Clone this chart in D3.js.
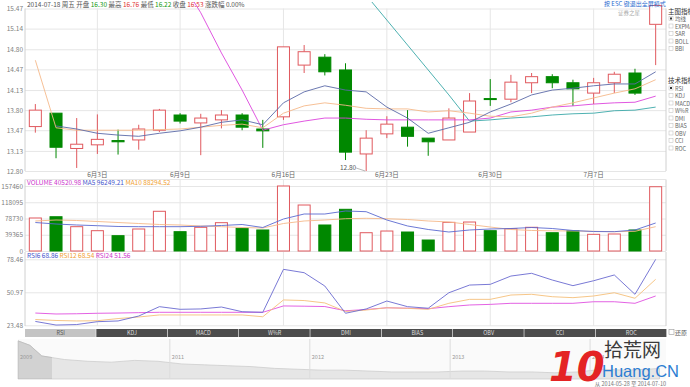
<!DOCTYPE html>
<html>
<head>
<meta charset="utf-8">
<script src="https://cdn.jsdelivr.net/npm/d3@7"></script>
<style>
  body { margin: 0; background: #fff; }
  svg { display: block; }
</style>
</head>
<body>
<svg id="chart" width="690" height="387"></svg>
<script>
// trading days shown, 2014-05-28 .. 2014-07-10
const dates = ["05-28","05-29","05-30","06-03","06-04","06-05","06-06","06-09","06-10","06-11",
  "06-12","06-13","06-16","06-17","06-18","06-19","06-20","06-23","06-24","06-25",
  "06-26","06-27","06-30","07-01","07-02","07-03","07-04","07-07","07-08","07-09","07-10"];

const openP  = [13.53,13.75,13.17,13.23,13.30,13.31,13.47,13.72,13.59,13.64,13.72,13.49,13.69,14.54,14.67,14.46,13.08,13.41,13.52,13.34,13.31,13.44,13.99,13.98,14.25,14.35,14.25,14.08,14.25,14.41,15.21];
const closeP = [13.80,13.19,13.24,13.32,13.28,13.49,13.80,13.62,13.67,13.72,13.52,13.46,14.84,14.76,14.43,13.11,13.34,13.57,13.37,13.28,13.67,13.95,13.98,14.26,14.35,14.25,14.15,14.25,14.39,14.08,15.52];
const highP  = [13.90,13.75,13.67,13.73,13.48,13.56,13.82,13.75,13.74,13.80,13.75,13.64,14.84,14.87,14.72,14.57,13.47,13.70,13.80,13.34,13.83,14.08,14.31,14.38,14.41,14.39,14.30,14.33,14.43,14.48,15.52];
const lowP   = [13.43,13.01,12.85,13.08,13.07,13.15,13.44,13.58,13.06,13.50,13.47,13.18,13.64,14.41,14.37,12.98,12.80,13.34,13.20,13.05,13.31,13.44,13.87,13.93,14.08,14.16,13.87,13.90,14.08,14.05,14.54];

const ma5  = [null,13.54,13.49,13.42,13.39,13.37,13.42,13.46,13.52,13.60,13.64,13.56,13.92,14.10,14.20,14.13,14.10,13.85,13.67,13.42,13.51,13.60,13.77,13.90,14.05,14.13,14.16,14.20,14.23,14.23,14.43];
const ma10 = [14.62,13.51,13.47,13.47,13.47,13.47,13.48,13.49,13.52,13.55,13.57,13.51,13.75,13.87,13.92,13.88,13.83,13.82,13.82,13.77,13.79,13.75,13.70,13.69,13.75,13.85,13.92,14.00,14.08,14.15,14.30];
const ma20 = [null,null,null,null,null,null,null,15.95,15.40,14.74,14.13,13.47,13.56,13.62,13.67,13.67,13.65,13.64,13.64,13.64,13.64,13.64,13.67,13.77,13.80,13.85,13.87,13.90,13.92,13.93,14.03];
const ma30 = [null,null,null,null,null,null,null,null,null,null,null,null,null,null,null,null,15.69,15.28,14.87,14.46,14.05,13.62,13.64,13.67,13.69,13.72,13.74,13.75,13.79,13.80,13.85];

const volume = [79940,83000,58900,49200,37100,53300,96200,46800,57400,68600,55000,50900,157460,111400,63000,101000,44300,48400,46000,26600,69400,70200,49200,54000,57400,44300,49200,40400,41200,50900,155700];
const volMa5  = [69000,65400,63000,61300,59400,58900,58900,58900,59800,61800,64200,56900,77500,89600,89600,96900,95200,75100,60600,52100,46000,50900,53300,54500,56900,54500,49700,47200,46800,50900,67800];
const volMa10 = [72700,75100,73900,71500,69000,66600,64200,63000,60600,58900,56900,55700,66600,72700,75100,78200,79200,78200,76300,72700,70300,64200,58100,52100,49700,48900,48500,47700,46800,47700,58900];

const rsi6  = [26.7,23.7,24.1,26.5,27.1,31.2,39.0,36.8,37.1,38.7,34.8,34.3,70.1,67.3,56.2,33.5,37.1,43.7,39.0,37.7,50.6,57.0,57.6,64.5,66.8,61.2,56.5,60.6,65.4,49.3,78.4];
const rsi12 = [28.3,27.5,27.1,27.3,29.1,30.4,32.1,32.1,32.1,32.1,32.1,30.6,44.6,44.1,42.1,35.0,36.2,38.1,37.6,36.8,41.8,45.1,45.1,48.7,49.3,47.3,46.5,47.9,50.6,46.0,61.8];
const rsi24 = [33.7,32.9,33.1,33.5,33.7,34.0,34.3,34.3,34.3,34.3,34.3,34.3,39.6,39.4,39.1,35.6,36.6,38.1,37.7,37.3,39.0,40.4,40.9,41.8,41.8,41.8,41.8,43.1,43.1,41.8,47.9];

const priceTicks = [12.80,13.13,13.47,13.80,14.13,14.47,14.80,15.14,15.47];
const volTicks = [0,39365,78730,118095,157460];
const rsiTicks = [23.48,50.97,78.46];
const dateTicks = ["06-03","06-09","06-16","06-23","06-30","07-07"];
const dateLabels = ["6月3日","6月9日","6月16日","6月23日","6月30日","7月7日"];

const mainIndicators = ["均线","EXPMA","SAR","BOLL","BBI"];
const techIndicators = ["RSI","KDJ","MACD","W%R","DMI","BIAS","OBV","CCI","ROC"];

// overview (history) series
const ovMonths = ["2009-12","2010-01","2010-02","2010-04","2010-06","2010-08","2010-10","2010-12","2011-02","2011-04","2011-06",
  "2011-08","2011-10","2011-12","2012-02","2012-04","2012-06","2012-08","2012-10","2012-12","2013-02",
  "2013-04","2013-06","2013-08","2013-10","2013-12","2014-02","2014-04","2014-06","2014-07"];
const ovValues = [29.5,27,21,19,18,17.5,18.5,18,16.5,16,15.5,15,14,13.5,13,13,12.5,12,12,12,12.5,12.5,12,12,11.5,12,13.5,13,13.5,14];
const ovYears = ["2011","2012","2013","2014"];

const FONT = "'Noto Sans CJK SC','DejaVu Sans',sans-serif";
const UP = "#e0595e", DOWN = "#008800", GRID = "#e6e6e6", AXIS = "#808080";
const X0 = 25, X1 = 666;

const svg = d3.select("#chart").attr("font-family", FONT);

const x = d3.scaleBand().domain(dates).range([X0, X1]).paddingInner(0.37).paddingOuter(0.185);
const cx = i => x(dates[i]) + x.bandwidth() / 2;
const yP = d3.scaleLinear().domain([12.80, 15.47]).range([171, 8.5]);
const yV = d3.scaleLinear().domain([0, 157460]).range([251, 186]);
const yR = d3.scaleLinear().domain([23.48, 78.46]).range([325.3, 259.3]);

function grid(scale, ticks, top, bottom, fmt) {
  const g = svg.append("g").attr("transform", `translate(${X0},0)`)
    .call(d3.axisLeft(scale).tickValues(ticks).tickSize(-(X1 - X0)).tickPadding(2).tickFormat(fmt));
  g.attr("font-family", FONT).attr("font-size", 6.5);
  g.select(".domain").remove();
  g.selectAll("line").attr("stroke", GRID);
  g.selectAll("text").attr("fill", AXIS);
  const v = svg.append("g").attr("transform", `translate(0,${bottom})`)
    .call(d3.axisBottom(x).tickValues(dateTicks).tickSize(-(bottom - top)).tickFormat(""));
  v.select(".domain").remove();
  v.selectAll("line").attr("stroke", GRID);
  svg.append("line").attr("x1", X0).attr("x2", X0).attr("y1", top).attr("y2", bottom).attr("stroke", "#d0d0d0");
  svg.append("line").attr("x1", X1).attr("x2", X1).attr("y1", top).attr("y2", bottom).attr("stroke", "#d0d0d0");
}

grid(yP, priceTicks, 8.5, 171, d3.format(".2f"));
grid(yV, volTicks, 179.5, 251, d => d);
grid(yR, rsiTicks, 252, 326, d3.format(".2f"));
svg.append("line").attr("x1", X0).attr("x2", X1).attr("y1", 179.5).attr("y2", 179.5).attr("stroke", GRID);

// date labels
svg.append("g").selectAll("text").data(dateTicks).join("text")
  .attr("x", d => x(d) + x.bandwidth() / 2).attr("y", 177)
  .attr("text-anchor", "middle").attr("font-size", 6.5).attr("fill", "#666")
  .text((d, i) => dateLabels[i]);

// ---------- main candles ----------
svg.append("clipPath").attr("id", "clipMain").append("rect")
  .attr("x", X0).attr("y", 2).attr("width", X1 - X0).attr("height", 171 - 2);
const main = svg.append("g").attr("clip-path", "url(#clipMain)");
const idx = d3.range(dates.length);
const up = i => closeP[i] >= openP[i];
const bw = x.bandwidth();

const candles = main.append("g").selectAll("g").data(idx).join("g");
candles.append("line")
  .attr("x1", i => cx(i)).attr("x2", i => cx(i))
  .attr("y1", i => yP(highP[i])).attr("y2", i => yP(Math.max(openP[i], closeP[i])))
  .attr("stroke", i => up(i) ? UP : DOWN);
candles.append("line")
  .attr("x1", i => cx(i)).attr("x2", i => cx(i))
  .attr("y1", i => yP(Math.min(openP[i], closeP[i]))).attr("y2", i => yP(lowP[i]))
  .attr("stroke", i => up(i) ? UP : DOWN);
candles.append("rect")
  .attr("x", i => x(dates[i]) + 0.5).attr("width", bw - 1)
  .attr("y", i => yP(Math.max(openP[i], closeP[i])))
  .attr("height", i => Math.max(1, Math.abs(yP(openP[i]) - yP(closeP[i]))))
  .attr("fill", i => up(i) ? "#fff" : DOWN)
  .attr("stroke", i => up(i) ? UP : DOWN);

const lineOf = (arr, ys) => d3.line().defined(i => arr[i] != null).x(i => cx(i)).y(i => ys(arr[i]));
[[ma30, "#3aa8a8"], [ma20, "#dd44dd"], [ma10, "#f5b98a"], [ma5, "#5b6aa8"]].forEach(([arr, c]) => {
  main.append("path").datum(idx).attr("d", lineOf(arr, yP)).attr("fill", "none").attr("stroke", c).attr("stroke-width", 0.9);
});

// min price marker
const iMin = d3.minIndex(lowP);
svg.append("line").attr("x1", cx(iMin) - 10).attr("y1", yP(lowP[iMin]) - 3)
  .attr("x2", cx(iMin) - 1).attr("y2", yP(lowP[iMin])).attr("stroke", "#888").attr("stroke-width", 0.6);
svg.append("text").attr("x", cx(iMin) - 10).attr("y", yP(lowP[iMin]) - 1).attr("text-anchor", "end")
  .attr("font-size", 6.5).attr("fill", "#555").text(lowP[iMin].toFixed(2));

// ---------- volume ----------
const vol = svg.append("g");
vol.selectAll("rect").data(idx).join("rect")
  .attr("x", i => x(dates[i]) + 0.5).attr("width", bw - 1)
  .attr("y", i => yV(volume[i])).attr("height", i => yV(0) - yV(volume[i]))
  .attr("fill", i => up(i) ? "#fff" : DOWN).attr("stroke", i => up(i) ? UP : DOWN);
[[volMa10, "#f5b98a"], [volMa5, "#5b6ad0"]].forEach(([arr, c]) => {
  vol.append("path").datum(idx).attr("d", lineOf(arr, yV)).attr("fill", "none").attr("stroke", c).attr("stroke-width", 0.9);
});

function legend(y, items) {
  const t = svg.append("text").attr("x", 27).attr("y", y).attr("font-size", 6.5);
  items.forEach(([s, c]) => t.append("tspan").attr("fill", c).text(s + " "));
}
legend(185, [["VOLUME 40520.98", "#cc33cc"], ["MA5 96249.21", "#4455cc"], ["MA10 88294.52", "#f0a030"]]);

// ---------- RSI ----------
const rsiG = svg.append("g");
[[rsi24, "#e050e0"], [rsi12, "#f5c07a"], [rsi6, "#6a6ad0"]].forEach(([arr, c]) => {
  rsiG.append("path").datum(idx).attr("d", lineOf(arr, yR)).attr("fill", "none").attr("stroke", c).attr("stroke-width", 0.9);
});
legend(258, [["RSI6 68.86", "#4455cc"], ["RSI12 68.54", "#f0a030"], ["RSI24 51.56", "#cc33cc"]]);

// ---------- indicator tabs ----------
const tabX = d3.scaleBand().domain(techIndicators).range([X0, 667]);
const tabs = svg.append("g").selectAll("g").data(techIndicators).join("g");
tabs.append("rect").attr("x", d => tabX(d)).attr("y", 329).attr("width", tabX.bandwidth() - 0.6).attr("height", 8)
  .attr("fill", (d, i) => i === 0 ? "#c4c4c4" : "#4d4d4d");
tabs.append("text").attr("x", d => tabX(d) + tabX.bandwidth() / 2).attr("y", 335.3)
  .attr("text-anchor", "middle").attr("font-size", 5.5)
  .attr("fill", (d, i) => i === 0 ? "#555" : "#ddd").text(d => d);
svg.append("rect").attr("x", 669).attr("y", 329.5).attr("width", 5).attr("height", 5).attr("fill", "#fff").attr("stroke", "#999").attr("stroke-width", 0.6);
svg.append("text").attr("x", 675).attr("y", 334.5).attr("font-size", 6).attr("fill", "#555").text("还原");

// ---------- overview ----------
const parseM = d3.timeParse("%Y-%m");
const ovX = d3.scaleTime().domain([new Date(2009, 11, 1), new Date(2014, 6, 18)]).range([18, 666]);
const ovY = d3.scaleLinear().domain([8, 30]).range([379, 340]);
const ovArea = d3.area().x((d, i) => ovX(parseM(ovMonths[i]))).y0(379).y1(d => ovY(d));
const ov = svg.append("g");
ov.append("rect").attr("x", 18).attr("y", 339).attr("width", 648).attr("height", 40).attr("fill", "#fafafa");
ov.append("path").datum(ovValues).attr("fill", "#e6e6e6").attr("stroke", "#c8c8c8").attr("stroke-width", 0.7).attr("d", ovArea);
svg.append("clipPath").attr("id", "clipOvLeft").append("rect").attr("x", 18).attr("y", 339).attr("width", 34).attr("height", 40);
ov.append("path").datum(ovValues).attr("fill", "#d2d2d2").attr("stroke", "#b8b8b8").attr("stroke-width", 0.7)
  .attr("clip-path", "url(#clipOvLeft)").attr("d", ovArea);
ov.selectAll("line.yr").data(ovYears).join("line")
  .attr("x1", d => ovX(new Date(+d, 0, 1))).attr("x2", d => ovX(new Date(+d, 0, 1)))
  .attr("y1", 339).attr("y2", 379).attr("stroke", "#dcdcdc");
ov.selectAll("text").data(["2009"].concat(ovYears)).join("text")
  .attr("x", d => d === "2009" ? 20 : ovX(new Date(+d, 0, 1)) + 2).attr("y", 359)
  .attr("font-size", 5.5).attr("fill", "#999").text(d => d);

// ---------- header ----------
const head = svg.append("text").attr("x", 27).attr("y", 6.5).attr("font-size", 6.5).attr("fill", "#555");
[["2014-07-18 周五 开盘 ", "#555"], ["16.30", "#119911"], [" 最高 ", "#555"], ["16.76", "#e03030"],
 [" 最低 ", "#555"], ["16.22", "#119911"], [" 收盘 ", "#555"], ["16.53", "#e03030"], [" 涨跌幅 0.00%", "#555"]]
  .forEach(([s, c]) => head.append("tspan").attr("fill", c).text(s));
svg.append("text").attr("x", 604).attr("y", 6).attr("font-size", 6).attr("fill", "#2a6ccf").text("按 ESC 键退出全屏模式");
svg.append("text").attr("x", 618).attr("y", 14.5).attr("font-size", 5.5).attr("fill", "#aaa").text("证券之星");

// ---------- right side panel ----------
function sideList(title, y0, items) {
  svg.append("text").attr("x", 668).attr("y", y0).attr("font-size", 6.5).attr("fill", "#333").text(title);
  items.forEach((s, i) => {
    const y = y0 + 7.5 * (i + 1);
    svg.append("rect").attr("x", 669).attr("y", y - 4.5).attr("width", 4).attr("height", 4)
      .attr("fill", "#fff").attr("stroke", "#bbb").attr("stroke-width", 0.5);
    if (i === 0) svg.append("rect").attr("x", 670).attr("y", y - 3.5).attr("width", 2).attr("height", 2).attr("fill", "#333");
    svg.append("text").attr("x", 675).attr("y", y).attr("font-size", 5.5).attr("fill", "#666").text(s);
  });
}
sideList("主图指标", 13.5, mainIndicators);
sideList("技术指标", 83, techIndicators);

// ---------- watermark ----------
svg.append("text").attr("x", 549).attr("y", 381).attr("font-size", 40).attr("font-weight", "bold")
  .attr("font-style", "italic").attr("fill", "#e42424").attr("font-family", "'DejaVu Sans',sans-serif").text("10");
svg.append("text").attr("x", 604).attr("y", 357).attr("font-size", 19).attr("fill", "#3a3a3a").text("拾荒网");
svg.append("text").attr("x", 602).attr("y", 376.5).attr("font-size", 16.5).attr("fill", "#2d7dd2")
  .attr("font-family", "'Liberation Sans Narrow','Liberation Sans',sans-serif").text("Huang.CN");
svg.append("text").attr("x", 666).attr("y", 386).attr("text-anchor", "end").attr("font-size", 5.5).attr("fill", "#777")
  .text("从 2014-05-28 至 2014-07-10");
</script>
</body>
</html>
